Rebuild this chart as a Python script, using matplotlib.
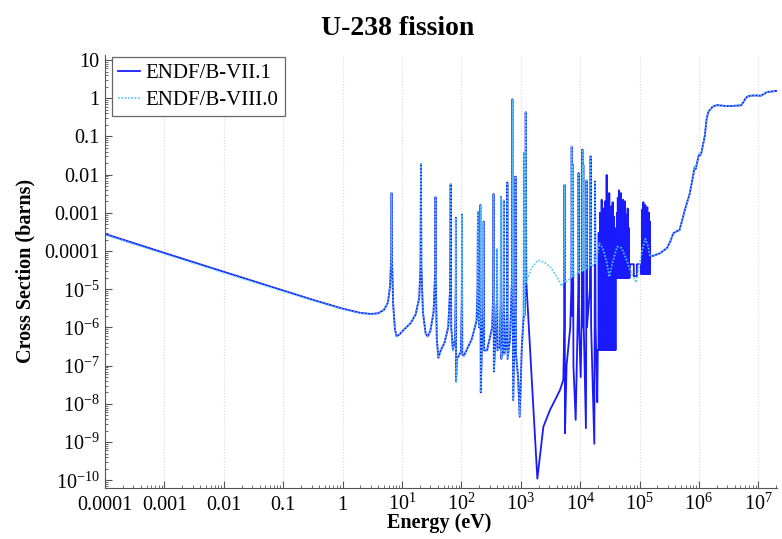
import matplotlib
matplotlib.use("Agg")
import matplotlib.pyplot as plt
from matplotlib.ticker import FixedLocator, FixedFormatter, LogLocator, NullFormatter

plt.rcParams["font.family"] = ["Liberation Serif", "DejaVu Serif"]
plt.rcParams["mathtext.fontset"] = "custom"
plt.rcParams["mathtext.rm"] = "Liberation Serif"
plt.rcParams["mathtext.it"] = "Liberation Serif:italic"
plt.rcParams["mathtext.bf"] = "Liberation Serif:bold"

# --- data (energy in eV, cross section in barns) ---
thermal_E = [1e-4, 1e-3, 1e-2, 0.1, 0.3, 1.0, 2.0, 3.0, 4.0, 5.0]
thermal_xs7 = [2.8e-4, 8.9e-5, 2.85e-5, 9.2e-6, 5.4e-6, 3.1e-6, 2.4e-6, 2.25e-6, 2.35e-6, 2.9e-6]
thermal_xs8 = [2.65e-4, 8.4e-5, 2.7e-5, 8.8e-6, 5.2e-6, 3.0e-6, 2.35e-6, 2.2e-6, 2.3e-6, 2.85e-6]

# resolved resonances, common to both evaluations
res_E = [5.8, 6.3, 6.55, 6.67, 6.8, 7.1, 7.6, 8.1, 9.0, 11, 14, 17, 19.5, 20.5, 20.87, 21.2,
         22.5, 25, 27, 30, 34, 36.3, 36.68, 37.1, 38.5, 41, 45, 52, 60, 64.5, 66.0, 67.5,
         72, 78, 80.4, 80.7, 81.5, 84, 90, 98, 101.5, 102.5, 103.5, 110, 150, 180, 187,
         189.7, 192, 200, 205, 208.5, 212, 220, 233, 237.4, 242, 270, 330, 345, 347.8, 352,
         370, 395, 398, 405, 440, 460, 463, 470, 500, 515, 518, 525, 560, 590, 594, 600,
         660, 712, 721.6, 730, 745, 780, 810, 815, 830, 900, 960, 1040, 1120, 1140, 1150,
         1195, 1211, 1240]
res_xs = [4.5e-6, 1.2e-5, 6e-5, 3.3e-3, 6e-5, 4e-6, 9e-7, 5.8e-7, 6.5e-7, 9e-7, 1.3e-6,
          2.2e-6, 6e-6, 4e-5, 1.9e-2, 4e-5, 2.5e-6, 7e-7, 5.8e-7, 8e-7, 2.5e-6, 3e-5, 2.6e-3,
          2e-5, 5e-7, 1.6e-7, 2.5e-7, 4e-7, 1.0e-6, 1e-5, 5.6e-3, 1e-6, 2.5e-7, 5e-7, 1e-5,
          7.4e-4, 3.8e-8, 1.5e-7, 1.8e-7, 2.3e-7, 5e-6, 9e-4, 2e-7, 1.8e-7, 5e-7, 1.5e-6,
          1e-5, 1.07e-3, 3e-6, 1e-6, 1e-5, 1.6e-3, 2e-8, 2e-7, 3e-6, 5.9e-4, 2.5e-7, 2.5e-7,
          1e-6, 1e-5, 3.1e-3, 7e-8, 3e-7, 5e-6, 1.1e-4, 2.5e-7, 3e-7, 5e-6, 2.6e-3, 1.5e-7,
          4e-7, 5e-6, 2.1e-3, 2e-7, 3e-7, 5e-6, 6.2e-3, 1.5e-7, 5e-7, 2e-5, 0.93, 2e-5,
          1.25e-8, 3e-7, 5e-6, 8.9e-3, 2e-7, 5e-8, 4.6e-9, 3e-7, 2e-6, 3.7e-2, 2e-6, 1e-5,
          0.43, 1.5e-5]

# ENDF/B-VII.1 from 1.2 keV to 20 keV
mid7_E = [1900, 2400, 3100, 4000, 4570, 5200, 5400, 5450, 5550, 5900, 6800, 7100, 7200,
          7350, 7500, 7550, 7700, 8400, 9000, 9300, 9400, 9600, 10200, 10800, 10900, 11050,
          11300, 11500, 12500, 12700, 12800, 13000, 14600, 15000, 15300, 17300, 17800,
          18200, 19400, 19800]
mid7_xs = [1.1e-10, 2.5e-9, 6.9e-9, 1.5e-8, 2.3e-8, 4.2e-8, 1e-6, 5.4e-3, 1.7e-9, 1e-7,
           1e-6, 1e-5, 0.054, 2e-6, 1e-5, 0.018, 1e-7, 3.8e-9, 1e-6, 1e-5, 0.011, 1e-6,
           5e-8, 1e-5, 0.045, 1e-6, 0.018, 1e-6, 2.3e-9, 1e-5, 7e-3, 1e-6, 1e-5, 0.03, 1e-6,
           9e-10, 6.6e-3, 1e-6, 1.1e-8, 2.6e-7]

# ENDF/B-VII.1 unresolved-range spikes: energies, tops, floor level
spk1_E = [20500, 21500, 23000, 24400, 25500, 26500, 27900, 29500, 30900, 32500, 33800,
          35200, 36800, 38500]
spk1_top = [3e-4, 1e-3, 2.2e-3, 1.3e-3, 5e-4, 2e-3, 9.8e-3, 1e-3, 3.3e-3, 6e-4, 1.5e-3,
            1.9e-3, 8e-4, 4e-4]
spk1_floor = 2.6e-7
spk2_E = [41500, 43000, 45000, 46700, 48600, 50700, 53000, 55000, 56800, 59500, 63000, 66000]
spk2_top = [1e-3, 2.5e-3, 3.9e-3, 1.5e-3, 3.3e-3, 2e-3, 2.2e-3, 1.2e-3, 2e-3, 9e-4, 1.3e-3, 4e-4]
spk2_floor = 2e-5
step_E = [69000, 80000, 80000, 90000, 90000, 105000]
step_xs = [4.5e-5, 4.5e-5, 2.2e-5, 2.2e-5, 4.5e-5, 4.5e-5]
spk3_E = [110000, 116000, 120000, 125000, 130000, 135000, 140000, 144000, 148000]
spk3_top = [1.2e-3, 1.9e-3, 8e-4, 1.6e-3, 1.0e-3, 1.4e-3, 9e-4, 1.0e-3, 6e-4]
spk3_floor = 2.5e-5

# ENDF/B-VIII.0 from 1.2 keV to 150 keV
mid8_E = [1500, 1950, 2500, 3100, 4000, 4900, 5300, 5450, 5600, 7100, 7200, 7350, 7550,
          7700, 9300, 9400, 9500, 10800, 10900, 11050, 11300, 11500, 12700, 12800, 12900,
          14800, 15000, 15200, 17600, 17800, 18000, 19500, 21000, 24000, 28000, 31000,
          35000, 42000, 50000, 60000, 70000, 87000, 95000, 110000, 125000, 140000]
mid8_xs = [3.5e-5, 5.8e-5, 5e-5, 3.9e-5, 2.2e-5, 1.2e-5, 1.4e-5, 5.4e-3, 1.5e-5, 2e-5,
           0.054, 2e-5, 0.018, 2.2e-5, 2.5e-5, 0.011, 2.6e-5, 3e-5, 0.045, 3e-5, 0.018,
           3e-5, 3.5e-5, 7e-3, 3.5e-5, 4e-5, 0.03, 4e-5, 4.5e-5, 6.6e-3, 4.5e-5, 8e-5,
           1.6e-4, 1.2e-4, 5e-5, 2.1e-5, 5e-5, 1.3e-4, 1.2e-4, 6e-5, 3e-5, 1.5e-5, 3e-5,
           1e-4, 2.1e-4, 1.3e-4]

# fast range, common to both
fast_E = [150e3, 220e3, 290e3, 330e3, 370e3, 420e3, 470e3, 580e3, 700e3, 850e3, 880e3,
          920e3, 1.0e6, 1.05e6, 1.1e6, 1.25e6, 1.35e6, 1.44e6, 1.7e6, 2.0e6, 3.0e6, 4.5e6,
          5.2e6, 6.0e6, 6.5e6, 7.5e6, 9.0e6, 11e6, 12.5e6, 14e6, 17e6, 20e6]
fast_xs = [7e-5, 8.7e-5, 1.2e-4, 1.8e-4, 2.9e-4, 3.3e-4, 3.5e-4, 1.2e-3, 3.2e-3, 1.6e-2,
           1.4e-2, 1.9e-2, 3.4e-2, 3.2e-2, 3.8e-2, 0.1, 0.3, 0.44, 0.6, 0.66, 0.62, 0.64,
           0.66, 0.95, 1.1, 1.17, 1.18, 1.16, 1.3, 1.45, 1.5, 1.55]


def spikes(energies, tops, floor):
    e, s = [], []
    for en, top in zip(energies, tops):
        e += [en * 0.996, en, en * 1.004]
        s += [floor, top, floor]
    return e, s


s1e, s1s = spikes(spk1_E, spk1_top, spk1_floor)
s2e, s2s = spikes(spk2_E, spk2_top, spk2_floor)
s3e, s3s = spikes(spk3_E, spk3_top, spk3_floor)

E7 = (thermal_E + res_E + mid7_E + s1e + [40000, 40000] + s2e + [68500] + step_E
      + [105000] + s3e + [149500] + fast_E)
xs7 = (thermal_xs7 + res_xs + mid7_xs + s1s + [spk1_floor, spk2_floor] + s2s + [spk2_floor]
       + step_xs + [spk3_floor] + s3s + [spk3_floor] + fast_xs)
E8 = thermal_E + res_E + mid8_E + fast_E
xs8 = thermal_xs8 + res_xs + mid8_xs + fast_xs

# --- plot ---
fig = plt.figure(figsize=(7.82, 5.39), dpi=100)
ax = fig.add_axes([0.1343, 0.0946, 0.8593, 0.8033])

ax.plot(E7, xs7, color="#1a1aff", lw=1.3, label="ENDF/B-VII.1")
ax.plot(E8, xs8, color="#55c5f5", lw=1.2, ls=(0, (1, 1)), label="ENDF/B-VIII.0")

ax.set_xscale("log")
ax.set_yscale("log")
ax.set_xlim(1e-4, 2.06e7)
ax.set_ylim(6.25e-11, 13.5)

x_ticks = [10.0 ** k for k in range(-4, 8)]
x_labels = ["0.0001", "0.001", "0.01", "0.1", "1"] + [r"$\mathregular{10^{%d}}$" % k for k in range(1, 8)]
y_ticks = [10.0 ** k for k in range(-10, 2)]
y_labels = [r"$\mathregular{10^{-%d}}$" % k for k in range(10, 4, -1)] + ["0.0001", "0.001", "0.01", "0.1", "1", "10"]
ax.xaxis.set_major_locator(FixedLocator(x_ticks))
ax.xaxis.set_major_formatter(FixedFormatter(x_labels))
ax.yaxis.set_major_locator(FixedLocator(y_ticks))
ax.yaxis.set_major_formatter(FixedFormatter(y_labels))
ax.xaxis.set_minor_locator(LogLocator(base=10, subs=range(2, 10), numticks=30))
ax.yaxis.set_minor_locator(LogLocator(base=10, subs=range(2, 10), numticks=30))
ax.xaxis.set_minor_formatter(NullFormatter())
ax.yaxis.set_minor_formatter(NullFormatter())

ax.tick_params(which="major", direction="in", length=5, width=0.8, color="#555555",
               labelsize=14.5)
ax.tick_params(which="minor", direction="in", length=2.5, width=0.6, color="#555555")
ax.tick_params(axis="x", which="major", pad=15.5)
ax.tick_params(axis="y", which="major", pad=4)
# put every x label on the same baseline, plain or superscripted
for lbl in ax.get_xticklabels():
    lbl.set_verticalalignment("baseline")

for side in ["top", "right"]:
    ax.spines[side].set_visible(False)
for side in ["left", "bottom"]:
    ax.spines[side].set_color("#555555")
    ax.spines[side].set_linewidth(0.8)

ax.grid(axis="x", which="major", color="#d8d8d8", ls=":", lw=0.8)

leg = ax.legend(loc="upper left", bbox_to_anchor=(0.0105, 0.995), borderaxespad=0,
                fontsize=15, frameon=True, fancybox=False, framealpha=1,
                edgecolor="#666666", handlelength=1.05, handletextpad=0.25,
                borderpad=0.3, labelspacing=0.35)
leg.get_frame().set_linewidth(0.9)

fig.text(0.508, 0.947, "U-238 fission", ha="center", va="center", fontsize=20, fontweight="bold")
fig.text(0.562, 0.029, "Energy (eV)", ha="center", va="center", fontsize=14.5, fontweight="bold")
fig.text(0.033, 0.497, "Cross Section (barns)", ha="center", va="center", rotation=90,
         fontsize=14.5, fontweight="bold")

fig.savefig("out.png", dpi=100)
